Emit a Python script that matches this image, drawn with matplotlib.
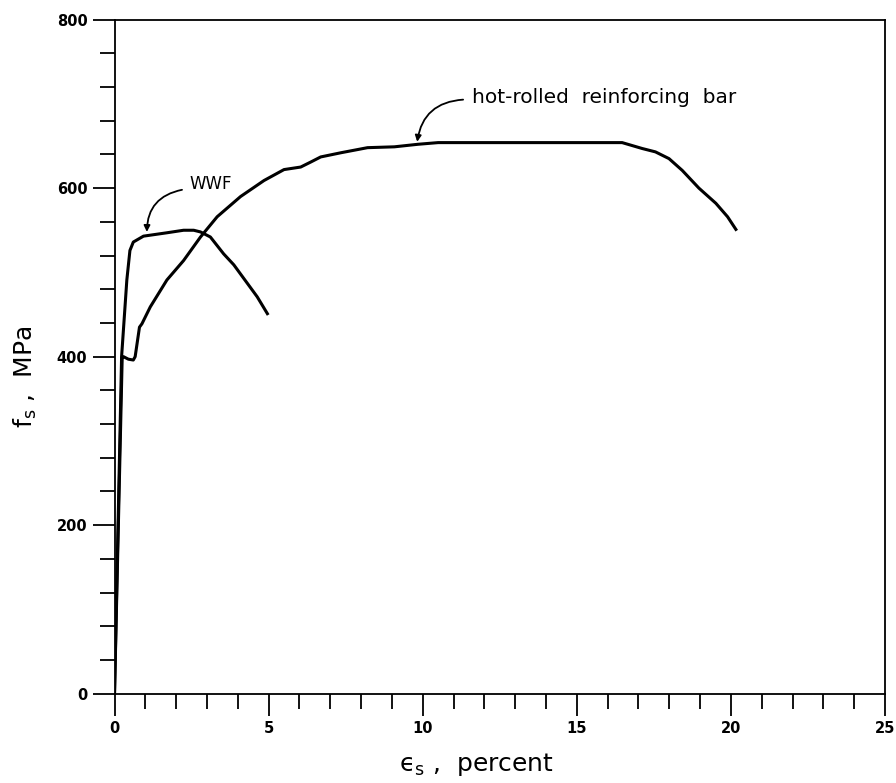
import matplotlib
matplotlib.use("Agg")
import matplotlib.pyplot as plt
from matplotlib.ticker import MultipleLocator

# stress-strain curves (strain in percent, stress in MPa)
bar_strain = [0, 0.25, 0.29, 0.45, 0.61, 0.67, 0.81, 0.89, 1.16, 1.70, 2.24, 2.79,
              3.33, 4.09, 4.85, 5.50, 6.04, 6.37, 6.69, 7.35, 8.21, 9.08, 9.84,
              10.50, 12.0, 14.5, 16.47, 17.12, 17.55, 17.99, 18.42, 18.96, 19.51,
              19.89, 20.16]
bar_stress = [0, 400, 400, 397, 396, 400, 435, 439, 459, 491, 514, 542,
              566, 590, 609, 622, 625, 631, 637, 642, 648, 649, 652,
              654, 654, 654, 654, 647, 643, 635, 621, 600, 582,
              566, 551]

wwf_strain = [0, 0.23, 0.40, 0.50, 0.61, 0.94, 1.70, 2.24, 2.57, 2.79, 3.11,
              3.54, 3.87, 4.31, 4.63, 4.96]
wwf_stress = [0, 400, 491, 526, 536, 543, 547, 550, 550, 548, 542,
              522, 509, 487, 471, 451]

x_ticks = [0, 5, 10, 15, 20, 25]
y_ticks = [0, 200, 400, 600, 800]

fig = plt.figure(figsize=(8.96, 7.83), dpi=100)
ax = fig.add_axes([0.1278, 0.114, 0.860, 0.861])

ax.plot(bar_strain, bar_stress, color='black', lw=2.2, solid_joinstyle='round')
ax.plot(wwf_strain, wwf_stress, color='black', lw=2.2, solid_joinstyle='round')

ax.set_xlim(0, 25)
ax.set_ylim(0, 800)
ax.set_xticks(x_ticks)
ax.set_yticks(y_ticks)
ax.xaxis.set_minor_locator(MultipleLocator(1))
ax.yaxis.set_minor_locator(MultipleLocator(40))

ax.tick_params(which='major', direction='out', length=15.5, width=1.3, pad=4,
               labelsize=10.5, top=False, right=False)
ax.tick_params(which='minor', direction='out', length=10.5, width=1.3,
               top=False, right=False)
for lab in ax.get_xticklabels() + ax.get_yticklabels():
    lab.set_fontweight('bold')
for sp in ax.spines.values():
    sp.set_linewidth(1.3)

# curve labels with curved leader arrows
ax.text(2.44, 605, 'WWF', fontsize=12, va='center', ha='left')
ax.annotate('', xy=(1.05, 548), xytext=(2.19, 598),
            arrowprops=dict(arrowstyle='-|>', color='black', lw=1.3,
                            mutation_scale=9, shrinkA=0, shrinkB=0,
                            connectionstyle='arc3,rad=0.4'))
ax.text(11.6, 707, 'hot-rolled  reinforcing  bar', fontsize=14.5, va='center', ha='left')
ax.annotate('', xy=(9.82, 655), xytext=(11.31, 705),
            arrowprops=dict(arrowstyle='-|>', color='black', lw=1.3,
                            mutation_scale=9, shrinkA=0, shrinkB=0,
                            connectionstyle='arc3,rad=0.4'))

fig.text(476 / 896, 1 - 765 / 783, '\u03f5$_\\mathregular{s}$ ,  percent', fontsize=18,
         ha='center', va='center')
fig.text(25 / 896, 1 - 377 / 783, r'$\mathregular{f_s}$ ,  MPa', fontsize=18,
         ha='center', va='center', rotation=90)

fig.savefig('out.png', dpi=100)
